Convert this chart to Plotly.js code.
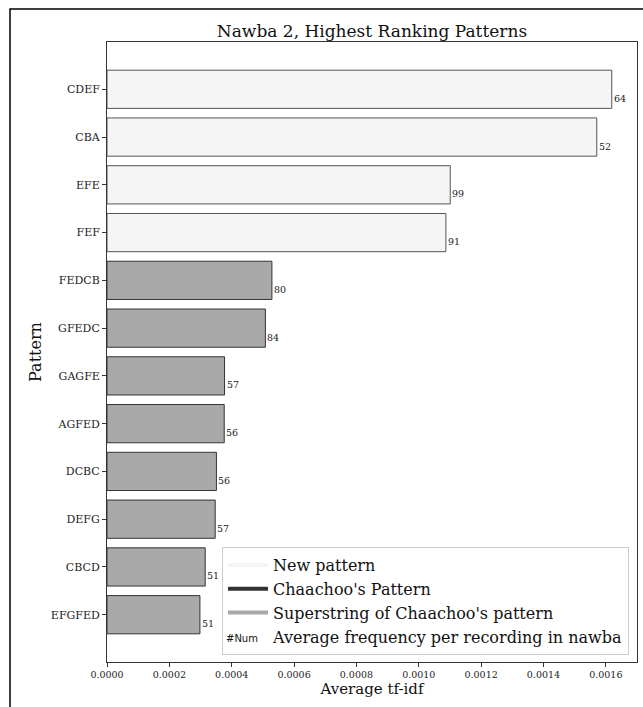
<!DOCTYPE html>
<html>
<head>
<meta charset="utf-8">
<script src="https://cdn.plot.ly/plotly-3.0.1.min.js"></script>
<style>
  html, body { margin: 0; padding: 0; background: #fff; }
  #chart { width: 643px; height: 707px; }
</style>
</head>
<body>
<div id="chart"></div>
<script>
// ---- data ----
const patterns = ["CDEF", "CBA", "EFE", "FEF", "FEDCB", "GFEDC", "GAGFE", "AGFED", "DCBC", "DEFG", "CBCD", "EFGFED"];
const tfidf = [0.001619, 0.001571, 0.001101, 0.001087, 0.000529, 0.000508, 0.000377, 0.000376, 0.000351, 0.000347, 0.000315, 0.000298];
const avgFreq = [64, 52, 99, 91, 80, 84, 57, 56, 56, 57, 51, 51];
const patternType = ["new", "new", "new", "new", "super", "super", "super", "super", "super", "super", "super", "super"];
const legendNames = ["New pattern", "Chaachoo's Pattern", "Superstring of Chaachoo's pattern", "Average frequency per recording in nawba"];

// ---- styles ----
const fillFor = { new: "#f5f5f5", chaachoo: "#333333", super: "#a9a9a9" };
const edgeFor = { new: "#555555", chaachoo: "#222222", super: "#333333" };
const serif = "DejaVu Serif, serif";

const barTrace = {
  type: "bar",
  orientation: "h",
  x: tfidf,
  y: patterns,
  width: 0.8,
  marker: {
    color: patternType.map(t => fillFor[t]),
    line: { color: patternType.map(t => edgeFor[t]), width: 1 }
  },
  showlegend: false,
  hoverinfo: "x+y"
};

const legendTraces = [
  { name: legendNames[0], color: fillFor.new },
  { name: legendNames[1], color: fillFor.chaachoo },
  { name: legendNames[2], color: fillFor.super },
  { name: legendNames[3], color: "rgba(0,0,0,0)" }
].map(d => ({
  type: "scatter",
  mode: "lines",
  x: [null],
  y: [null],
  name: d.name,
  line: { color: d.color, width: 4 },
  showlegend: true,
  hoverinfo: "skip"
}));

const valueLabels = patterns.map((p, i) => ({
  x: tfidf[i],
  y: p,
  xref: "x",
  yref: "y",
  text: String(avgFreq[i]),
  showarrow: false,
  xanchor: "left",
  yanchor: "middle",
  xshift: 0,
  yshift: -9,
  font: { family: serif, size: 9.5, color: "#222" }
}));

const n = patterns.length;
const layout = {
  width: 643,
  height: 707,
  margin: { l: 107, r: 6, t: 42, b: 45, pad: 0 },
  paper_bgcolor: "#ffffff",
  plot_bgcolor: "#ffffff",
  font: { family: serif, color: "#222" },
  title: {
    text: "Nawba 2, Highest Ranking Patterns",
    font: { family: serif, size: 17, color: "#111" },
    x: 0.5 * (107 + 637) / 643,
    xanchor: "center",
    y: 1 - 31 / 707,
    yanchor: "middle"
  },
  xaxis: {
    range: [0, 0.0017],
    tickvals: [0, 0.0002, 0.0004, 0.0006, 0.0008, 0.0010, 0.0012, 0.0014, 0.0016],
    ticktext: ["0.0000", "0.0002", "0.0004", "0.0006", "0.0008", "0.0010", "0.0012", "0.0014", "0.0016"],
    ticks: "outside",
    ticklen: 4,
    tickwidth: 1,
    tickcolor: "#333",
    tickfont: { family: serif, size: 9.5, color: "#222" },
    showgrid: false,
    zeroline: false,
    showline: true,
    linecolor: "#333",
    linewidth: 1,
    mirror: true,
    title: { text: "Average tf-idf", font: { family: serif, size: 15, color: "#111" }, standoff: 4 }
  },
  yaxis: {
    type: "category",
    range: [n - 1 + 0.99, -0.99],
    ticks: "outside",
    ticklen: 4,
    tickwidth: 1,
    tickcolor: "#333",
    tickfont: { family: serif, size: 11, color: "#222" },
    showgrid: false,
    zeroline: false,
    showline: true,
    linecolor: "#333",
    linewidth: 1,
    mirror: true,
    title: { text: "Pattern", font: { family: serif, size: 16, color: "#111" }, standoff: 5 }
  },
  legend: {
    x: (629 - 107) / 530,
    xanchor: "right",
    y: (662 - 655) / 620,
    yanchor: "bottom",
    bgcolor: "rgba(255,255,255,0.85)",
    bordercolor: "#cccccc",
    borderwidth: 1,
    itemwidth: 40,
    font: { family: serif, size: 16, color: "#111" },
    tracegroupgap: 0
  },
  annotations: valueLabels.concat([{
    text: "#Num",
    xref: "paper",
    yref: "paper",
    x: (242 - 107) / 530,
    y: (662 - 638) / 620,
    xanchor: "center",
    yanchor: "middle",
    showarrow: false,
    font: { family: "DejaVu Sans, sans-serif", size: 10, color: "#111" }
  }]),
  shapes: [{
    type: "rect",
    xref: "paper",
    yref: "paper",
    x0: (10 - 107) / 530,
    x1: (660 - 107) / 530,
    y0: -(720 - 662) / 620,
    y1: 1 + (42 - 9) / 620,
    line: { color: "#000", width: 1.5 },
    fillcolor: "rgba(0,0,0,0)",
    layer: "below"
  }],
  bargap: 0.2
};

Plotly.newPlot("chart", [barTrace].concat(legendTraces), layout, { staticPlot: true, displayModeBar: false });
</script>
</body>
</html>
